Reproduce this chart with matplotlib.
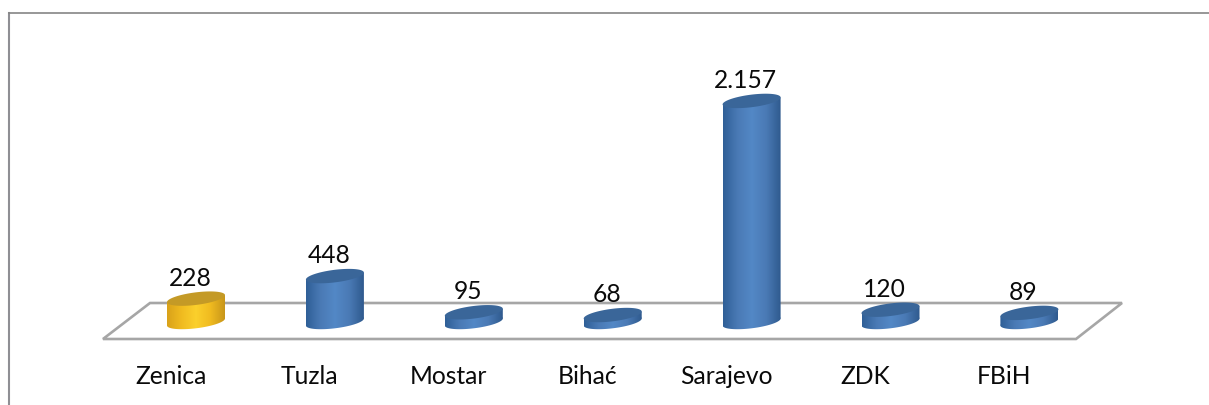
import numpy as np
import matplotlib
matplotlib.use("Agg")
import matplotlib.pyplot as plt
from matplotlib.colors import LinearSegmentedColormap
from matplotlib.patches import Polygon

cities = ["Zenica", "Tuzla", "Mostar", "Bihać", "Sarajevo", "ZDK", "FBiH"]
values = [228, 448, 95, 68, 2157, 120, 89]
value_labels = ["228", "448", "95", "68", "2.157", "120", "89"]
highlight = "Zenica"

W, H = 1209, 406
x0_px, x_step = 196, 138.9   # where the categories sit
y0_px, y_scale = 323, 0.1025  # baseline and pixels per unit

blue_cmap = LinearSegmentedColormap.from_list("b", ["#2f5f97", "#4a7ab5", "#5388c6", "#4a7ab5", "#2f5a8e"])
yellow_cmap = LinearSegmentedColormap.from_list("y", ["#d9a21a", "#f0bb20", "#fbd02c", "#f0bb20", "#c8961a"])
blue_top = "#3a6699"
yellow_top = "#c49a26"

plt.rcParams["font.family"] = ["Lato", "DejaVu Sans"]
fig = plt.figure(figsize=(W / 100, H / 100), dpi=100)
ax = fig.add_axes([0, 0, 1, 1])
ax.axis("off")


def px(x, y):
    return (x - x0_px) / x_step, (y0_px - y) / y_scale


# outer frame
ax.plot(*zip(*[px(*p) for p in [(8.5, 406), (8.5, 13.5)]]), color="#8f8f94", lw=1.5, zorder=1)
ax.plot(*zip(*[px(*p) for p in [(8.5, 13.5), (1209, 13.5)]]), color="#858585", lw=1.2, zorder=1)

# floor of the chart
floor = [(103, 340), (150, 304), (1122, 304), (1076, 340)]
ax.add_patch(Polygon([px(*p) for p in floor], closed=True, fill=False,
                     edgecolor="#a6a6a6", lw=1.9, zorder=2))

half_w = 29 / x_step
ell_h = 6.3 / y_scale
tilt = 3.5 / y_scale
t = np.linspace(0, 2 * np.pi, 121)

for i, (city, v, lab) in enumerate(zip(cities, values, value_labels)):
    cmap = yellow_cmap if city == highlight else blue_cmap
    top_col = yellow_top if city == highlight else blue_top

    ex = i + half_w * np.cos(t)
    ey = ell_h * np.sin(t) + tilt * np.cos(t)

    # body of the cylinder: bottom ellipse and the side between the ellipses
    lo = np.column_stack([ex, ey])
    hi = np.column_stack([ex, ey + v])
    side = [(i - half_w, -tilt), (i + half_w, tilt), (i + half_w, v + tilt), (i - half_w, v - tilt)]
    grad = np.linspace(0, 1, 128).reshape(1, -1)
    extent = [i - half_w, i + half_w, -ell_h * 1.5, v + ell_h * 1.5]
    for shape in (Polygon(lo, closed=True), Polygon(side, closed=True)):
        im = ax.imshow(grad, cmap=cmap, extent=extent, aspect="auto", zorder=3)
        shape.set_transform(ax.transData)
        im.set_clip_path(shape)
    ax.fill(hi[:, 0], hi[:, 1], color=top_col, lw=0, zorder=4)

    ax.text(i - 6 / x_step, v + 10 / y_scale, lab, ha="center", va="bottom",
            fontsize=17.7, color="#0a0a0a", zorder=5)
    ax.text(i - 25 / x_step, -54 / y_scale, city, ha="center", va="center",
            fontsize=17.7, color="#0a0a0a", zorder=5)

ax.set_xlim(-x0_px / x_step, (W - x0_px) / x_step)
ax.set_ylim(-(H - y0_px) / y_scale, y0_px / y_scale)
fig.savefig("out.png", dpi=100)
